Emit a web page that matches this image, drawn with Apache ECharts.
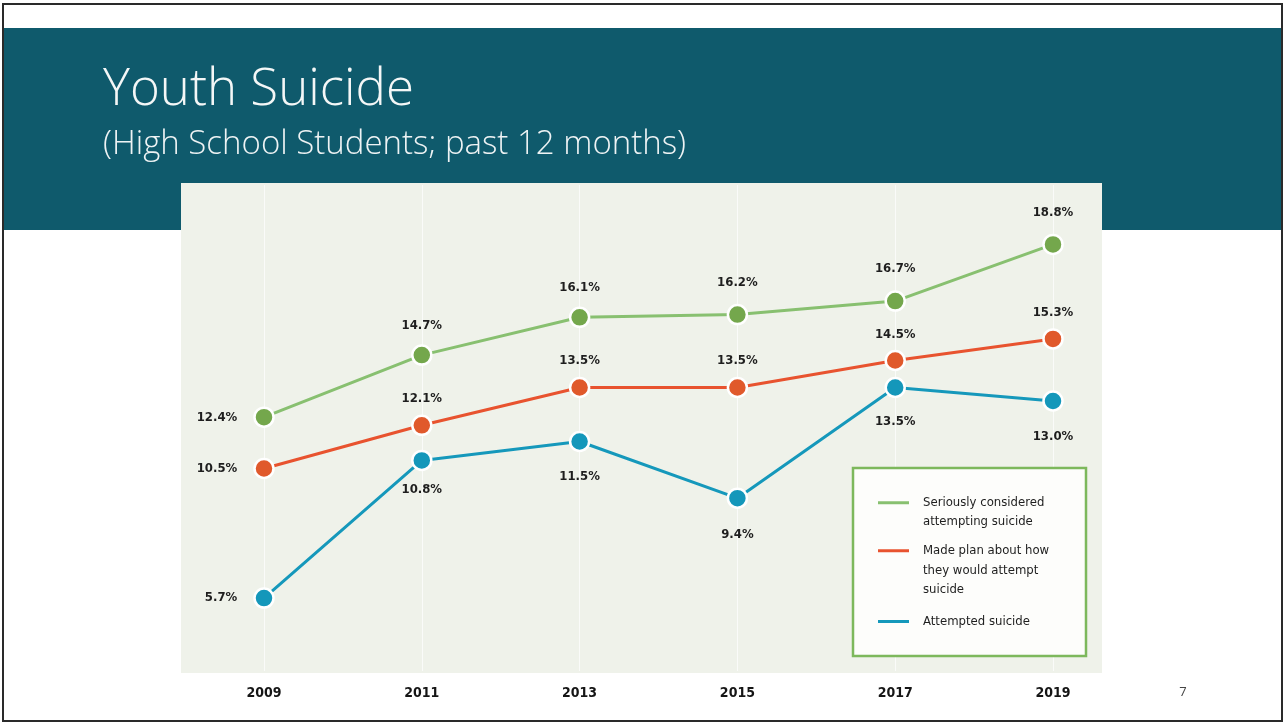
<!DOCTYPE html>
<html>
<head>
<meta charset="utf-8">
<script src="https://cdn.jsdelivr.net/npm/echarts@6/dist/echarts.min.js"></script>
<style>
html,body{margin:0;padding:0;background:#fff;}
#c{width:1286px;height:725px;}
</style>
</head>
<body>
<div id="c"></div>
<script>
const years = ['2009','2011','2013','2015','2017','2019'];
const seriesNames = ['Seriously considered attempting suicide','Made plan about how they would attempt suicide','Attempted suicide'];
const considered = [12.4, 14.7, 16.1, 16.2, 16.7, 18.8];
const madePlan = [10.5, 12.1, 13.5, 13.5, 14.5, 15.3];
const attempted = [5.7, 10.8, 11.5, 9.4, 13.5, 13.0];

// label placement (styling)
const consideredPos = [['left',16],['top',12],['top',12],['top',15],['top',15],['top',15]];
const planPos = [['left',16],['top',9],['top',10],['top',10],['top',9],['top',9]];
const attemptedPos = [['left',16],['bottom',12],['bottom',18],['bottom',19],['bottom',17],['bottom',18]];

const labelFont = '"DejaVu Sans Condensed"';

function mk(values, pos){
  return values.map((v,i)=>({value:v,label:{position:pos[i][0],distance:pos[i][1]}}));
}
function series(name, values, pos, lineColor, dotColor){
  return {
    name:name, type:'line', data:mk(values,pos),
    symbol:'circle', symbolSize:19,
    lineStyle:{color:lineColor,width:3},
    itemStyle:{color:dotColor,borderColor:'#ffffff',borderWidth:2.5},
    label:{show:true,formatter:p=>p.value.toFixed(1)+'%',fontFamily:labelFont,fontWeight:'bold',fontSize:13,color:'#1e1e1e'},
    emphasis:{disabled:true},
    z:3
  };
}

const chart = echarts.init(document.getElementById('c'));
const legendText = {fontFamily:labelFont,fontSize:13,color:'#1e1e1e',padding:[0,0,0,9]};
function legendItem(name, color){
  return {name:name,icon:'rect',itemStyle:{color:color,borderWidth:0,borderColor:color},lineStyle:{color:color,width:3}};
}
chart.setOption({
  animation:false,
  backgroundColor:'#ffffff',
  title:{
    text:'Youth Suicide',
    subtext:'(High School Students; past 12 months)',
    left:98, top:60,
    itemGap:12,
    textStyle:{color:'#f4f7f7',fontFamily:'"Open Sans",sans-serif',fontWeight:300,fontSize:51},
    subtextStyle:{color:'#eef3f4',fontFamily:'"Open Sans",sans-serif',fontWeight:300,fontSize:33}
  },
  graphic:[
    {type:'rect',z:-10,shape:{x:3,y:4,width:1279,height:717},style:{fill:'#ffffff',stroke:'#2a2a2a',lineWidth:2}},
    {type:'rect',z:-9,shape:{x:4,y:28,width:1277,height:202},style:{fill:'#0f5a6c'}},
    {type:'rect',z:-8,shape:{x:181,y:183,width:921,height:490},style:{fill:'#eff2ea'}},
    {type:'rect',z:1,shape:{x:853,y:468,width:233,height:188},style:{fill:'#fdfdfb',stroke:'#7db85c',lineWidth:2.5}},
    {type:'text',z:5,x:1183,y:692,style:{text:'7',fill:'#444',fontSize:13,fontFamily:'"Open Sans",sans-serif',align:'center',verticalAlign:'middle'}}
  ],
  legend:[
    {data:[legendItem(seriesNames[0],'#88c070')],left:878,top:475,padding:0,itemWidth:31,itemHeight:3,
     formatter:()=>' \nSeriously considered\nattempting suicide',textStyle:Object.assign({lineHeight:18.5},legendText),selectedMode:false,z:6},
    {data:[legendItem(seriesNames[1],'#e8532f')],left:878,top:502,padding:0,itemWidth:31,itemHeight:3,
     formatter:()=>' \n \nMade plan about how\nthey would attempt\nsuicide',textStyle:Object.assign({lineHeight:19.5},legendText),selectedMode:false,z:6},
    {data:[legendItem(seriesNames[2],'#1598bb')],left:878,top:612,padding:0,itemWidth:31,itemHeight:3,
     formatter:()=>'Attempted suicide',textStyle:Object.assign({lineHeight:19},legendText),selectedMode:false,z:6}
  ],
  grid:{left:264,right:233,top:185,bottom:54},
  xAxis:{
    type:'category',data:years,boundaryGap:false,
    axisLine:{show:false},axisTick:{show:false},
    axisLabel:{margin:15,fontFamily:labelFont,fontWeight:'bold',fontSize:14,color:'#151515'},
    splitLine:{show:true,lineStyle:{color:'#ffffff',width:1,opacity:0.7}}
  },
  yAxis:{type:'value',min:3,max:21,show:false,splitLine:{show:false}},
  series:[
    series(seriesNames[0],considered,consideredPos,'#88c070','#74a74c'),
    series(seriesNames[1],madePlan,planPos,'#e8532f','#e0592b'),
    series(seriesNames[2],attempted,attemptedPos,'#1598bb','#1497ba')
  ]
});
</script>
</body>
</html>
